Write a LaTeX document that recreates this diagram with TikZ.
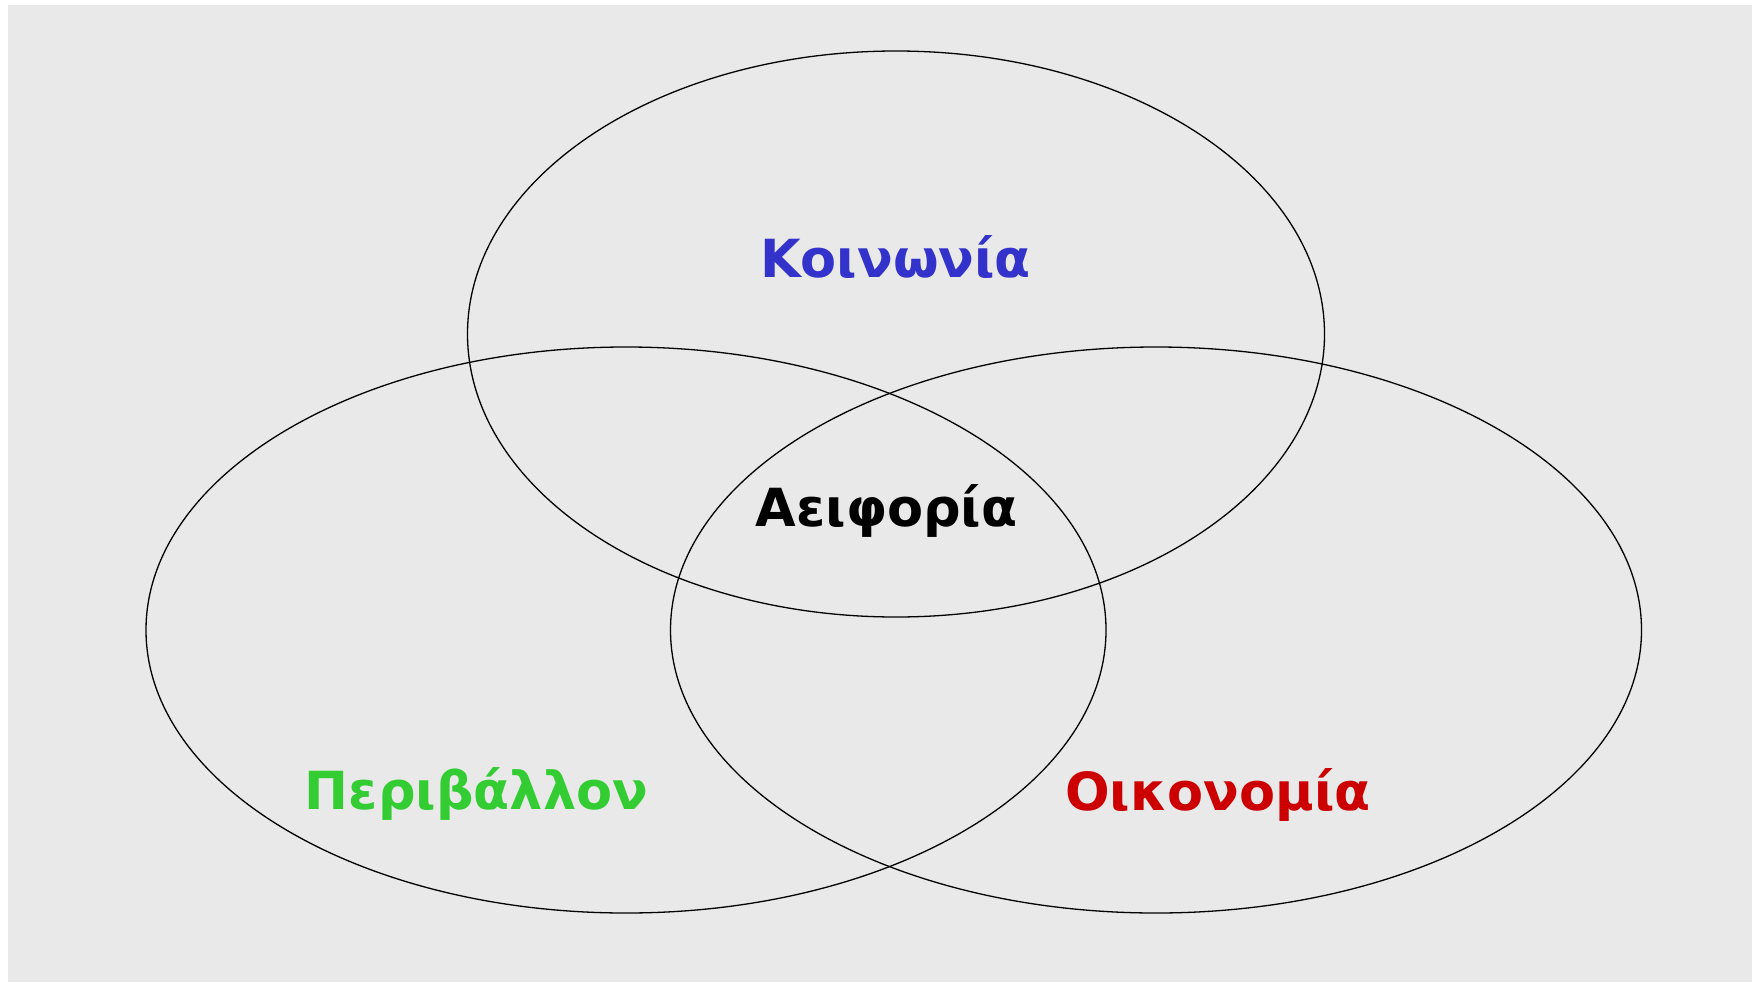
\documentclass[tikz,border=0pt]{standalone}
\usepackage{fontspec}
\setmainfont{DejaVu Sans}
\definecolor{bggray}{RGB}{233,233,233}
\definecolor{kblue}{RGB}{51,51,204}
\definecolor{pgreen}{RGB}{51,204,51}
\definecolor{ored}{RGB}{204,0,0}
\begin{document}
\begin{tikzpicture}[x=1pt,y=-1pt,
  ring/.style={draw=black,line width=1.3pt},
  lbl/.style={font=\fontsize{52.5}{60}\selectfont\bfseries,anchor=base,inner sep=0pt}]
\useasboundingbox (0,0) rectangle (1752,982);
\fill[white] (0,0) rectangle (1752,982);
\fill[bggray] (8,5) rectangle (1752,982);
\draw[ring] (896,334) ellipse [x radius=428.5, y radius=283];
\draw[ring] (626,630) ellipse [x radius=480, y radius=283];
\draw[ring] (1156,630) ellipse [x radius=485.5, y radius=283];
\node[lbl,text=kblue] (k) at (895.5,277) {Κοινωνία};
\node[lbl,text=black] (a) at (886.5,526) {Αειφορία};
\node[lbl,text=pgreen] (p) at (476.5,809) {Περιβάλλον};
\node[lbl,text=ored] (o) at (1218,810) {Οικονομία};
\end{tikzpicture}
\end{document}
